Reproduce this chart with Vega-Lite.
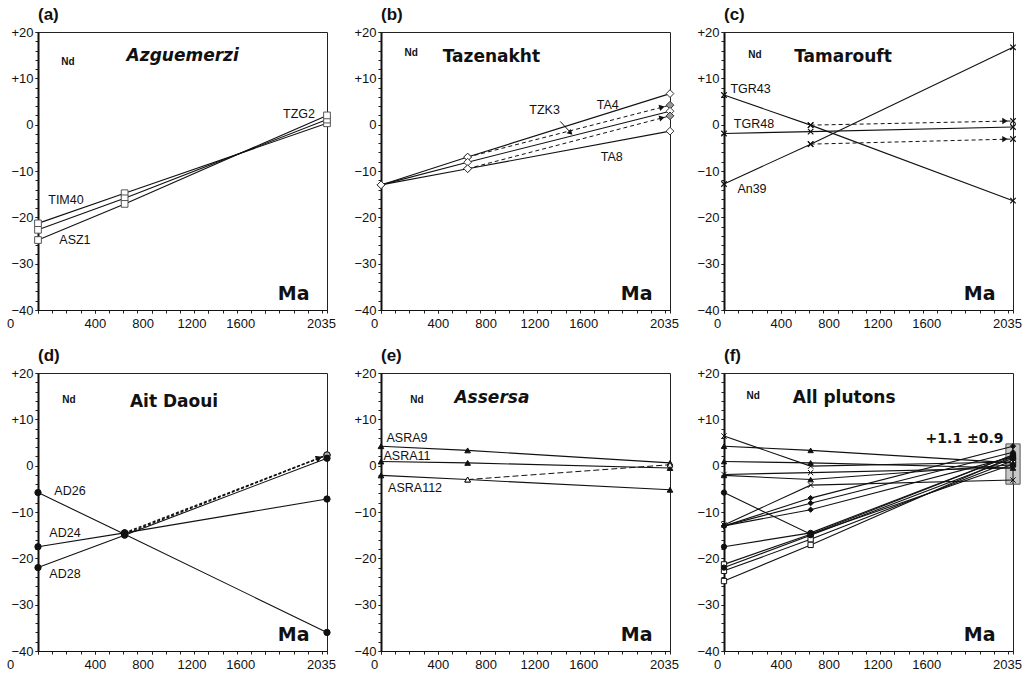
{
"$schema": "https://vega.github.io/schema/vega-lite/v6.json",
"background": "white",
"padding": {"left": 5, "top": 5, "right": 5, "bottom": 3},
"datasets": {
"nd": [
{"pluton":"Azguemerzi","sample":"TIM40","kind":"measured","age":0,"eNd":-21.3,"inAll":true},
{"pluton":"Azguemerzi","sample":"TIM40","kind":"measured","age":610,"eNd":-14.8,"inAll":true},
{"pluton":"Azguemerzi","sample":"TIM40","kind":"measured","age":2035,"eNd":0.3,"inAll":true},
{"pluton":"Azguemerzi","sample":"TZG2","kind":"measured","age":0,"eNd":-22.7,"inAll":true},
{"pluton":"Azguemerzi","sample":"TZG2","kind":"measured","age":610,"eNd":-15.9,"inAll":true},
{"pluton":"Azguemerzi","sample":"TZG2","kind":"measured","age":2035,"eNd":1.1,"inAll":true},
{"pluton":"Azguemerzi","sample":"ASZ1","kind":"measured","age":0,"eNd":-24.9,"inAll":true},
{"pluton":"Azguemerzi","sample":"ASZ1","kind":"measured","age":610,"eNd":-17.1,"inAll":true},
{"pluton":"Azguemerzi","sample":"ASZ1","kind":"measured","age":2035,"eNd":2.0,"inAll":true},
{"pluton":"Tazenakht","sample":"TA4","kind":"measured","age":0,"eNd":-13.0,"inAll":true},
{"pluton":"Tazenakht","sample":"TA4","kind":"measured","age":610,"eNd":-7.0,"inAll":true},
{"pluton":"Tazenakht","sample":"TA4","kind":"measured","age":2035,"eNd":6.7,"inAll":false},
{"pluton":"Tazenakht","sample":"TA4","kind":"corrected","age":610,"eNd":-7.0,"inAll":false},
{"pluton":"Tazenakht","sample":"TA4","kind":"corrected","age":2035,"eNd":4.2,"inAll":true},
{"pluton":"Tazenakht","sample":"TZK3","kind":"measured","age":0,"eNd":-13.0,"inAll":true},
{"pluton":"Tazenakht","sample":"TZK3","kind":"measured","age":610,"eNd":-8.1,"inAll":true},
{"pluton":"Tazenakht","sample":"TZK3","kind":"measured","age":2035,"eNd":2.9,"inAll":true},
{"pluton":"Tazenakht","sample":"TA8","kind":"measured","age":0,"eNd":-13.0,"inAll":true},
{"pluton":"Tazenakht","sample":"TA8","kind":"measured","age":610,"eNd":-9.5,"inAll":true},
{"pluton":"Tazenakht","sample":"TA8","kind":"measured","age":2035,"eNd":-1.4,"inAll":false},
{"pluton":"Tazenakht","sample":"TA8","kind":"corrected","age":610,"eNd":-9.5,"inAll":false},
{"pluton":"Tazenakht","sample":"TA8","kind":"corrected","age":2035,"eNd":1.9,"inAll":true},
{"pluton":"Tamarouft","sample":"TGR43","kind":"measured","age":0,"eNd":6.4,"inAll":true},
{"pluton":"Tamarouft","sample":"TGR43","kind":"measured","age":610,"eNd":-0.1,"inAll":true},
{"pluton":"Tamarouft","sample":"TGR43","kind":"measured","age":2035,"eNd":-16.4,"inAll":false},
{"pluton":"Tamarouft","sample":"TGR43","kind":"corrected","age":610,"eNd":-0.1,"inAll":false},
{"pluton":"Tamarouft","sample":"TGR43","kind":"corrected","age":2035,"eNd":0.8,"inAll":true},
{"pluton":"Tamarouft","sample":"TGR48","kind":"measured","age":0,"eNd":-1.9,"inAll":true},
{"pluton":"Tamarouft","sample":"TGR48","kind":"measured","age":610,"eNd":-1.5,"inAll":true},
{"pluton":"Tamarouft","sample":"TGR48","kind":"measured","age":2035,"eNd":-0.5,"inAll":true},
{"pluton":"Tamarouft","sample":"An39","kind":"measured","age":0,"eNd":-12.8,"inAll":true},
{"pluton":"Tamarouft","sample":"An39","kind":"measured","age":610,"eNd":-4.2,"inAll":true},
{"pluton":"Tamarouft","sample":"An39","kind":"measured","age":2035,"eNd":16.7,"inAll":false},
{"pluton":"Tamarouft","sample":"An39","kind":"corrected","age":610,"eNd":-4.2,"inAll":false},
{"pluton":"Tamarouft","sample":"An39","kind":"corrected","age":2035,"eNd":-3.1,"inAll":true},
{"pluton":"Ait Daoui","sample":"AD26","kind":"measured","age":0,"eNd":-5.8,"inAll":true},
{"pluton":"Ait Daoui","sample":"AD26","kind":"measured","age":610,"eNd":-14.8,"inAll":true},
{"pluton":"Ait Daoui","sample":"AD26","kind":"measured","age":2035,"eNd":-36.0,"inAll":false},
{"pluton":"Ait Daoui","sample":"AD26","kind":"corrected","age":610,"eNd":-14.8,"inAll":false},
{"pluton":"Ait Daoui","sample":"AD26","kind":"corrected","age":2035,"eNd":2.3,"inAll":true},
{"pluton":"Ait Daoui","sample":"AD24","kind":"measured","age":0,"eNd":-17.5,"inAll":true},
{"pluton":"Ait Daoui","sample":"AD24","kind":"measured","age":610,"eNd":-14.5,"inAll":true},
{"pluton":"Ait Daoui","sample":"AD24","kind":"measured","age":2035,"eNd":-7.2,"inAll":false},
{"pluton":"Ait Daoui","sample":"AD24","kind":"corrected","age":610,"eNd":-14.5,"inAll":false},
{"pluton":"Ait Daoui","sample":"AD24","kind":"corrected","age":2035,"eNd":2.3,"inAll":true},
{"pluton":"Ait Daoui","sample":"AD28","kind":"measured","age":0,"eNd":-22.0,"inAll":true},
{"pluton":"Ait Daoui","sample":"AD28","kind":"measured","age":610,"eNd":-15.0,"inAll":true},
{"pluton":"Ait Daoui","sample":"AD28","kind":"measured","age":2035,"eNd":1.6,"inAll":true},
{"pluton":"Assersa","sample":"ASRA9","kind":"measured","age":0,"eNd":4.2,"inAll":true},
{"pluton":"Assersa","sample":"ASRA9","kind":"measured","age":610,"eNd":3.3,"inAll":true},
{"pluton":"Assersa","sample":"ASRA9","kind":"measured","age":2035,"eNd":0.6,"inAll":true},
{"pluton":"Assersa","sample":"ASRA11","kind":"measured","age":0,"eNd":0.9,"inAll":true},
{"pluton":"Assersa","sample":"ASRA11","kind":"measured","age":610,"eNd":0.6,"inAll":true},
{"pluton":"Assersa","sample":"ASRA11","kind":"measured","age":2035,"eNd":-0.5,"inAll":true},
{"pluton":"Assersa","sample":"ASRA112","kind":"measured","age":0,"eNd":-2.1,"inAll":true},
{"pluton":"Assersa","sample":"ASRA112","kind":"measured","age":610,"eNd":-3.0,"inAll":true},
{"pluton":"Assersa","sample":"ASRA112","kind":"measured","age":2035,"eNd":-5.2,"inAll":false},
{"pluton":"Assersa","sample":"ASRA112","kind":"corrected","age":610,"eNd":-3.0,"inAll":false},
{"pluton":"Assersa","sample":"ASRA112","kind":"corrected","age":2035,"eNd":0.2,"inAll":true}
],
"labels": [
{"pluton":"Azguemerzi","label":"TIM40","age":197,"eNd":-16.2},
{"pluton":"Azguemerzi","label":"ASZ1","age":260,"eNd":-24.9},
{"pluton":"Azguemerzi","label":"TZG2","age":1838,"eNd":2.4},
{"pluton":"Tazenakht","label":"TA4","age":1597,"eNd":4.2},
{"pluton":"Tazenakht","label":"TZK3","age":1152,"eNd":3.1},
{"pluton":"Tazenakht","label":"TA8","age":1625,"eNd":-7.0},
{"pluton":"Tamarouft","label":"TGR43","age":187,"eNd":7.8},
{"pluton":"Tamarouft","label":"TGR48","age":211,"eNd":0.2},
{"pluton":"Tamarouft","label":"An39","age":197,"eNd":-13.9},
{"pluton":"Ait Daoui","label":"AD26","age":225,"eNd":-5.5},
{"pluton":"Ait Daoui","label":"AD24","age":190,"eNd":-14.6},
{"pluton":"Ait Daoui","label":"AD28","age":190,"eNd":-23.3},
{"pluton":"Assersa","label":"ASRA9","age":183,"eNd":5.9},
{"pluton":"Assersa","label":"ASRA11","age":183,"eNd":2.1},
{"pluton":"Assersa","label":"ASRA112","age":240,"eNd":-4.8}
]
},
"spacing": 15,
"vconcat": [
{"hconcat": [
{"width":289,"height":278,"title":{"text":"(a)"},
"resolve":{"axis":{"x":"independent","y":"independent"}},
"layer":[
{"data":{"values":[{}]},"mark":{"type":"point","opacity":0},
"encoding":{"x":{"datum":0,"type":"quantitative","scale":{"domain":[0,2035],"nice":false,"zero":false},"axis":{"title":null,"orient":"bottom","labels":false,"domain":false,"tickSize":3,"values":[0,100,200,300,400,500,600,700,800,900,1000,1100,1200,1300,1400,1500,1600,1700,1800,1900,2000]}},
"y":{"datum":0,"type":"quantitative","scale":{"domain":[-40,20],"nice":false},"axis":{"title":null,"orient":"left","labels":false,"domain":false,"tickSize":3,"values":[-40,-38,-36,-34,-32,-30,-28,-26,-24,-22,-20,-18,-16,-14,-12,-10,-8,-6,-4,-2,0,2,4,6,8,10,12,14,16,18,20]}}}},
{"layer":[
{"data":{"name":"nd"},"transform":[{"filter":"datum.pluton=='Azguemerzi' && datum.kind=='measured'"}],
"mark":{"type":"line","color":"#111","strokeWidth":1.1},
"encoding":{
"x":{"field":"age","type":"quantitative","axis":{"title":null,"orient":"bottom","labelOverlap":false,"labelFlush":false,"values":[0,400,800,1200,1600,2035],"format":"d","labelOffset":{"expr":"datum.value==0 ? -28 : datum.value==800 ? -9 : datum.value==1200 ? -17 : datum.value==1600 ? -25 : datum.value==2035 ? -6 : 0"}}},
"y":{"field":"eNd","type":"quantitative","axis":{"title":null,"orient":"left","labelOverlap":false,"labelFlush":false,"values":[-40,-30,-20,-10,0,10,20],"labelExpr":"datum.value > 0 ? '+' + datum.label : datum.label"}},
"detail":{"field":"sample"},"order":{"field":"age"}}},
{"data":{"name":"nd"},"transform":[{"filter":"datum.pluton=='Azguemerzi'"}],
"mark":{"type":"point","shape":"square","filled":true,"fill":"white","stroke":"#555","strokeWidth":1,"size":45,"opacity":1},
"encoding":{"x":{"field":"age","type":"quantitative"},"y":{"field":"eNd","type":"quantitative"}}},
{"data":{"name":"labels"},"transform":[{"filter":"datum.pluton=='Azguemerzi'"}],
"mark":{"type":"text","font":"Liberation Sans","fontSize":12.5,"color":"#111"},
"encoding":{"x":{"field":"age","type":"quantitative"},"y":{"field":"eNd","type":"quantitative"},"text":{"field":"label"}}},
{"data":{"values":[{}]},"mark":{"type":"text","text":"Nd","font":"Liberation Sans","fontSize":10,"fontWeight":"bold","color":"#111"},"encoding":{"x":{"datum":211},"y":{"datum":13.6}}},
{"data":{"values":[{}]},"mark":{"type":"text","text":"Azguemerzi","font":"DejaVu Sans","fontSize":17,"fontWeight":"bold","fontStyle":"italic","color":"#111"},"encoding":{"x":{"datum":1019},"y":{"datum":14.8}}},
{"data":{"values":[{}]},"mark":{"type":"text","text":"Ma","font":"DejaVu Sans","fontSize":19,"fontWeight":"bold","color":"#111"},"encoding":{"x":{"datum":1800},"y":{"datum":-36.6}}}
]}]},
{"width":289,"height":278,"title":{"text":"(b)"},
"resolve":{"axis":{"x":"independent","y":"independent"}},
"layer":[
{"data":{"values":[{}]},"mark":{"type":"point","opacity":0},
"encoding":{"x":{"datum":0,"type":"quantitative","scale":{"domain":[0,2035],"nice":false,"zero":false},"axis":{"title":null,"orient":"bottom","labels":false,"domain":false,"tickSize":3,"values":[0,100,200,300,400,500,600,700,800,900,1000,1100,1200,1300,1400,1500,1600,1700,1800,1900,2000]}},
"y":{"datum":0,"type":"quantitative","scale":{"domain":[-40,20],"nice":false},"axis":{"title":null,"orient":"left","labels":false,"domain":false,"tickSize":3,"values":[-40,-38,-36,-34,-32,-30,-28,-26,-24,-22,-20,-18,-16,-14,-12,-10,-8,-6,-4,-2,0,2,4,6,8,10,12,14,16,18,20]}}}},
{"layer":[
{"data":{"name":"nd"},"transform":[{"filter":"datum.pluton=='Tazenakht' && datum.kind=='measured'"}],
"mark":{"type":"line","color":"#111","strokeWidth":1.1},
"encoding":{
"x":{"field":"age","type":"quantitative","axis":{"title":null,"orient":"bottom","labelOverlap":false,"labelFlush":false,"values":[0,400,800,1200,1600,2035],"format":"d","labelOffset":{"expr":"datum.value==0 ? -7 : datum.value==800 ? -9 : datum.value==1200 ? -17 : datum.value==1600 ? -25 : datum.value==2035 ? -6 : 0"}}},
"y":{"field":"eNd","type":"quantitative","axis":{"title":null,"orient":"left","labelOverlap":false,"labelFlush":false,"values":[-40,-30,-20,-10,0,10,20],"labelExpr":"datum.value > 0 ? '+' + datum.label : datum.label"}},
"detail":{"field":"sample"},"order":{"field":"age"}}},
{"data":{"name":"nd"},"transform":[{"filter":"datum.pluton=='Tazenakht' && datum.kind=='corrected'"}],
"mark":{"type":"line","color":"#111","strokeWidth":1,"strokeDash":[4,3]},
"encoding":{"x":{"field":"age","type":"quantitative"},"y":{"field":"eNd","type":"quantitative"},"detail":{"field":"sample"},"order":{"field":"age"}}},
{"data":{"name":"nd"},"transform":[{"filter":"datum.pluton=='Tazenakht' && datum.kind=='corrected' && datum.age > 2000"}],
"mark":{"type":"point","shape":"triangle-right","filled":true,"color":"#111","size":40,"angle":-14,"xOffset":-8,"yOffset":2,"opacity":1},
"encoding":{"x":{"field":"age","type":"quantitative"},"y":{"field":"eNd","type":"quantitative"}}},
{"data":{"name":"nd"},"transform":[{"filter":"datum.pluton=='Tazenakht'"}],
"mark":{"type":"point","shape":"diamond","filled":true,"stroke":"#333","strokeWidth":1,"size":60,"opacity":1},
"encoding":{"x":{"field":"age","type":"quantitative"},"y":{"field":"eNd","type":"quantitative"},
"fill":{"condition":{"test":"datum.kind=='corrected' && datum.age > 2000","value":"#999"},"value":"white"}}},
{"data":{"values":[{}]},"mark":{"type":"rule","color":"#111","strokeWidth":1},
"encoding":{"x":{"datum":1262},"y":{"datum":0.7},"x2":{"datum":1335},"y2":{"datum":-1.7}}},
{"data":{"values":[{}]},"mark":{"type":"point","shape":"triangle-right","filled":true,"color":"#111","size":35,"angle":45,"opacity":1},
"encoding":{"x":{"datum":1335},"y":{"datum":-1.8}}},
{"data":{"name":"labels"},"transform":[{"filter":"datum.pluton=='Tazenakht'"}],
"mark":{"type":"text","font":"Liberation Sans","fontSize":12.5,"color":"#111"},
"encoding":{"x":{"field":"age","type":"quantitative"},"y":{"field":"eNd","type":"quantitative"},"text":{"field":"label"}}},
{"data":{"values":[{}]},"mark":{"type":"text","text":"Nd","font":"Liberation Sans","fontSize":10,"fontWeight":"bold","color":"#111"},"encoding":{"x":{"datum":212},"y":{"datum":15.4}}},
{"data":{"values":[{}]},"mark":{"type":"text","text":"Tazenakht","font":"DejaVu Sans","fontSize":17,"fontWeight":"bold","color":"#111"},"encoding":{"x":{"datum":777},"y":{"datum":14.6}}},
{"data":{"values":[{}]},"mark":{"type":"text","text":"Ma","font":"DejaVu Sans","fontSize":19,"fontWeight":"bold","color":"#111"},"encoding":{"x":{"datum":1800},"y":{"datum":-36.6}}}
]}]},
{"width":289,"height":278,"title":{"text":"(c)"},
"resolve":{"axis":{"x":"independent","y":"independent"}},
"layer":[
{"data":{"values":[{}]},"mark":{"type":"point","opacity":0},
"encoding":{"x":{"datum":0,"type":"quantitative","scale":{"domain":[0,2035],"nice":false,"zero":false},"axis":{"title":null,"orient":"bottom","labels":false,"domain":false,"tickSize":3,"values":[0,100,200,300,400,500,600,700,800,900,1000,1100,1200,1300,1400,1500,1600,1700,1800,1900,2000]}},
"y":{"datum":0,"type":"quantitative","scale":{"domain":[-40,20],"nice":false},"axis":{"title":null,"orient":"left","labels":false,"domain":false,"tickSize":3,"values":[-40,-38,-36,-34,-32,-30,-28,-26,-24,-22,-20,-18,-16,-14,-12,-10,-8,-6,-4,-2,0,2,4,6,8,10,12,14,16,18,20]}}}},
{"layer":[
{"data":{"name":"nd"},"transform":[{"filter":"datum.pluton=='Tamarouft' && datum.kind=='measured'"}],
"mark":{"type":"line","color":"#111","strokeWidth":1.1},
"encoding":{
"x":{"field":"age","type":"quantitative","axis":{"title":null,"orient":"bottom","labelOverlap":false,"labelFlush":false,"values":[0,400,800,1200,1600,2035],"format":"d","labelOffset":{"expr":"datum.value==0 ? -7 : datum.value==800 ? -9 : datum.value==1200 ? -17 : datum.value==1600 ? -25 : datum.value==2035 ? -6 : 0"}}},
"y":{"field":"eNd","type":"quantitative","axis":{"title":null,"orient":"left","labelOverlap":false,"labelFlush":false,"values":[-40,-30,-20,-10,0,10,20],"labelExpr":"datum.value > 0 ? '+' + datum.label : datum.label"}},
"detail":{"field":"sample"},"order":{"field":"age"}}},
{"data":{"name":"nd"},"transform":[{"filter":"datum.pluton=='Tamarouft' && datum.kind=='corrected'"}],
"mark":{"type":"line","color":"#111","strokeWidth":1,"strokeDash":[4,3]},
"encoding":{"x":{"field":"age","type":"quantitative"},"y":{"field":"eNd","type":"quantitative"},"detail":{"field":"sample"},"order":{"field":"age"}}},
{"data":{"name":"nd"},"transform":[{"filter":"datum.pluton=='Tamarouft' && datum.kind=='corrected' && datum.age > 2000"}],
"mark":{"type":"point","shape":"triangle-right","filled":true,"color":"#111","size":40,"angle":-1,"xOffset":-8,"yOffset":0,"opacity":1},
"encoding":{"x":{"field":"age","type":"quantitative"},"y":{"field":"eNd","type":"quantitative"}}},
{"data":{"name":"nd"},"transform":[{"filter":"datum.pluton=='Tamarouft'"}],
"mark":{"type":"point","shape":"M-1,-1L1,1M-1,1L1,-1","filled":false,"stroke":"#111","strokeWidth":1.2,"size":30,"opacity":1},
"encoding":{"x":{"field":"age","type":"quantitative"},"y":{"field":"eNd","type":"quantitative"}}},
{"data":{"name":"labels"},"transform":[{"filter":"datum.pluton=='Tamarouft'"}],
"mark":{"type":"text","font":"Liberation Sans","fontSize":12.5,"color":"#111"},
"encoding":{"x":{"field":"age","type":"quantitative"},"y":{"field":"eNd","type":"quantitative"},"text":{"field":"label"}}},
{"data":{"values":[{}]},"mark":{"type":"text","text":"Nd","font":"Liberation Sans","fontSize":10,"fontWeight":"bold","color":"#111"},"encoding":{"x":{"datum":218},"y":{"datum":15.0}}},
{"data":{"values":[{}]},"mark":{"type":"text","text":"Tamarouft","font":"DejaVu Sans","fontSize":17,"fontWeight":"bold","color":"#111"},"encoding":{"x":{"datum":838},"y":{"datum":14.6}}},
{"data":{"values":[{}]},"mark":{"type":"text","text":"Ma","font":"DejaVu Sans","fontSize":19,"fontWeight":"bold","color":"#111"},"encoding":{"x":{"datum":1800},"y":{"datum":-36.6}}}
]}]}
], "spacing": 54, "bounds": "flush"},
{"hconcat": [
{"width":289,"height":278,"title":{"text":"(d)"},
"resolve":{"axis":{"x":"independent","y":"independent"}},
"layer":[
{"data":{"values":[{}]},"mark":{"type":"point","opacity":0},
"encoding":{"x":{"datum":0,"type":"quantitative","scale":{"domain":[0,2035],"nice":false,"zero":false},"axis":{"title":null,"orient":"bottom","labels":false,"domain":false,"tickSize":3,"values":[0,100,200,300,400,500,600,700,800,900,1000,1100,1200,1300,1400,1500,1600,1700,1800,1900,2000]}},
"y":{"datum":0,"type":"quantitative","scale":{"domain":[-40,20],"nice":false},"axis":{"title":null,"orient":"left","labels":false,"domain":false,"tickSize":3,"values":[-40,-38,-36,-34,-32,-30,-28,-26,-24,-22,-20,-18,-16,-14,-12,-10,-8,-6,-4,-2,0,2,4,6,8,10,12,14,16,18,20]}}}},
{"layer":[
{"data":{"name":"nd"},"transform":[{"filter":"datum.pluton=='Ait Daoui' && datum.kind=='measured'"}],
"mark":{"type":"line","color":"#111","strokeWidth":1.1},
"encoding":{
"x":{"field":"age","type":"quantitative","axis":{"title":null,"orient":"bottom","labelOverlap":false,"labelFlush":false,"values":[0,400,800,1200,1600,2035],"format":"d","labelOffset":{"expr":"datum.value==0 ? -28 : datum.value==800 ? -9 : datum.value==1200 ? -17 : datum.value==1600 ? -25 : datum.value==2035 ? -6 : 0"}}},
"y":{"field":"eNd","type":"quantitative","axis":{"title":null,"orient":"left","labelOverlap":false,"labelFlush":false,"values":[-40,-30,-20,-10,0,10,20],"labelExpr":"datum.value > 0 ? '+' + datum.label : datum.label"}},
"detail":{"field":"sample"},"order":{"field":"age"}}},
{"data":{"name":"nd"},"transform":[{"filter":"datum.pluton=='Ait Daoui' && datum.kind=='corrected'"}],
"mark":{"type":"line","color":"#111","strokeWidth":1.4,"strokeDash":[3,2]},
"encoding":{"x":{"field":"age","type":"quantitative"},"y":{"field":"eNd","type":"quantitative"},"detail":{"field":"sample"},"order":{"field":"age"}}},
{"data":{"name":"nd"},"transform":[{"filter":"datum.pluton=='Ait Daoui' && datum.kind=='corrected' && datum.age > 2000"}],
"mark":{"type":"point","shape":"triangle-right","filled":true,"color":"#111","size":45,"angle":-21,"xOffset":-8,"yOffset":3,"opacity":1},
"encoding":{"x":{"field":"age","type":"quantitative"},"y":{"field":"eNd","type":"quantitative"}}},
{"data":{"name":"nd"},"transform":[{"filter":"datum.pluton=='Ait Daoui'"}],
"mark":{"type":"point","shape":"circle","filled":true,"stroke":"#111","strokeWidth":1,"size":40,"opacity":1},
"encoding":{"x":{"field":"age","type":"quantitative"},"y":{"field":"eNd","type":"quantitative"},
"fill":{"condition":{"test":"datum.kind=='corrected' && datum.age > 2000","value":"#aaa"},"value":"#111"}}},
{"data":{"name":"labels"},"transform":[{"filter":"datum.pluton=='Ait Daoui'"}],
"mark":{"type":"text","font":"Liberation Sans","fontSize":12.5,"color":"#111"},
"encoding":{"x":{"field":"age","type":"quantitative"},"y":{"field":"eNd","type":"quantitative"},"text":{"field":"label"}}},
{"data":{"values":[{}]},"mark":{"type":"text","text":"Nd","font":"Liberation Sans","fontSize":10,"fontWeight":"bold","color":"#111"},"encoding":{"x":{"datum":218},"y":{"datum":14.2}}},
{"data":{"values":[{}]},"mark":{"type":"text","text":"Ait Daoui","font":"DejaVu Sans","fontSize":17,"fontWeight":"bold","color":"#111"},"encoding":{"x":{"datum":958},"y":{"datum":13.8}}},
{"data":{"values":[{}]},"mark":{"type":"text","text":"Ma","font":"DejaVu Sans","fontSize":19,"fontWeight":"bold","color":"#111"},"encoding":{"x":{"datum":1800},"y":{"datum":-36.6}}}
]}]},
{"width":289,"height":278,"title":{"text":"(e)"},
"resolve":{"axis":{"x":"independent","y":"independent"}},
"layer":[
{"data":{"values":[{}]},"mark":{"type":"point","opacity":0},
"encoding":{"x":{"datum":0,"type":"quantitative","scale":{"domain":[0,2035],"nice":false,"zero":false},"axis":{"title":null,"orient":"bottom","labels":false,"domain":false,"tickSize":3,"values":[0,100,200,300,400,500,600,700,800,900,1000,1100,1200,1300,1400,1500,1600,1700,1800,1900,2000]}},
"y":{"datum":0,"type":"quantitative","scale":{"domain":[-40,20],"nice":false},"axis":{"title":null,"orient":"left","labels":false,"domain":false,"tickSize":3,"values":[-40,-38,-36,-34,-32,-30,-28,-26,-24,-22,-20,-18,-16,-14,-12,-10,-8,-6,-4,-2,0,2,4,6,8,10,12,14,16,18,20]}}}},
{"layer":[
{"data":{"name":"nd"},"transform":[{"filter":"datum.pluton=='Assersa' && datum.kind=='measured'"}],
"mark":{"type":"line","color":"#111","strokeWidth":1.1},
"encoding":{
"x":{"field":"age","type":"quantitative","axis":{"title":null,"orient":"bottom","labelOverlap":false,"labelFlush":false,"values":[0,400,800,1200,1600,2035],"format":"d","labelOffset":{"expr":"datum.value==0 ? -7 : datum.value==800 ? -9 : datum.value==1200 ? -17 : datum.value==1600 ? -25 : datum.value==2035 ? -6 : 0"}}},
"y":{"field":"eNd","type":"quantitative","axis":{"title":null,"orient":"left","labelOverlap":false,"labelFlush":false,"values":[-40,-30,-20,-10,0,10,20],"labelExpr":"datum.value > 0 ? '+' + datum.label : datum.label"}},
"detail":{"field":"sample"},"order":{"field":"age"}}},
{"data":{"name":"nd"},"transform":[{"filter":"datum.pluton=='Assersa' && datum.kind=='corrected'"}],
"mark":{"type":"line","color":"#111","strokeWidth":1,"strokeDash":[6,3]},
"encoding":{"x":{"field":"age","type":"quantitative"},"y":{"field":"eNd","type":"quantitative"},"detail":{"field":"sample"},"order":{"field":"age"}}},
{"data":{"name":"nd"},"transform":[{"filter":"datum.pluton=='Assersa' && datum.kind=='measured'"}],
"mark":{"type":"point","shape":"triangle-up","filled":true,"fill":"#111","stroke":"#111","strokeWidth":1,"size":32,"opacity":1},
"encoding":{"x":{"field":"age","type":"quantitative"},"y":{"field":"eNd","type":"quantitative"}}},
{"data":{"name":"nd"},"transform":[{"filter":"datum.pluton=='Assersa' && datum.kind=='corrected'"}],
"mark":{"type":"point","shape":"triangle-up","filled":true,"fill":"white","stroke":"#111","strokeWidth":1,"size":32,"opacity":1},
"encoding":{"x":{"field":"age","type":"quantitative"},"y":{"field":"eNd","type":"quantitative"}}},
{"data":{"name":"labels"},"transform":[{"filter":"datum.pluton=='Assersa'"}],
"mark":{"type":"text","font":"Liberation Sans","fontSize":12.5,"color":"#111"},
"encoding":{"x":{"field":"age","type":"quantitative"},"y":{"field":"eNd","type":"quantitative"},"text":{"field":"label"}}},
{"data":{"values":[{}]},"mark":{"type":"text","text":"Nd","font":"Liberation Sans","fontSize":10,"fontWeight":"bold","color":"#111"},"encoding":{"x":{"datum":253},"y":{"datum":14.2}}},
{"data":{"values":[{}]},"mark":{"type":"text","text":"Assersa","font":"DejaVu Sans","fontSize":17,"fontWeight":"bold","fontStyle":"italic","color":"#111"},"encoding":{"x":{"datum":781},"y":{"datum":14.6}}},
{"data":{"values":[{}]},"mark":{"type":"text","text":"Ma","font":"DejaVu Sans","fontSize":19,"fontWeight":"bold","color":"#111"},"encoding":{"x":{"datum":1800},"y":{"datum":-36.6}}}
]}]},
{"width":289,"height":278,"title":{"text":"(f)"},
"resolve":{"axis":{"x":"independent","y":"independent"}},
"layer":[
{"data":{"values":[{}]},"mark":{"type":"point","opacity":0},
"encoding":{"x":{"datum":0,"type":"quantitative","scale":{"domain":[0,2035],"nice":false,"zero":false},"axis":{"title":null,"orient":"bottom","labels":false,"domain":false,"tickSize":3,"values":[0,100,200,300,400,500,600,700,800,900,1000,1100,1200,1300,1400,1500,1600,1700,1800,1900,2000]}},
"y":{"datum":0,"type":"quantitative","scale":{"domain":[-40,20],"nice":false},"axis":{"title":null,"orient":"left","labels":false,"domain":false,"tickSize":3,"values":[-40,-38,-36,-34,-32,-30,-28,-26,-24,-22,-20,-18,-16,-14,-12,-10,-8,-6,-4,-2,0,2,4,6,8,10,12,14,16,18,20]}}}},
{"layer":[
{"data":{"values":[{}]},"mark":{"type":"rect","fill":"#c8c8c8","stroke":"#555","strokeWidth":1,"clip":false},
"encoding":{"x":{"datum":1985,"type":"quantitative","axis":{"title":null,"orient":"bottom","labelOverlap":false,"labelFlush":false,"values":[0,400,800,1200,1600,2035],"format":"d","labelOffset":{"expr":"datum.value==0 ? -7 : datum.value==800 ? -9 : datum.value==1200 ? -17 : datum.value==1600 ? -25 : datum.value==2035 ? -6 : 0"}}},
"x2":{"datum":2085},
"y":{"datum":-4.0,"type":"quantitative","axis":{"title":null,"orient":"left","labelOverlap":false,"labelFlush":false,"values":[-40,-30,-20,-10,0,10,20],"labelExpr":"datum.value > 0 ? '+' + datum.label : datum.label"}},
"y2":{"datum":4.7}}},
{"data":{"values":[{}]},"mark":{"type":"rule","color":"#111","strokeWidth":1},
"encoding":{"x":{"datum":2035},"y":{"datum":-4.0},"y2":{"datum":4.7}}},
{"data":{"name":"nd"},"transform":[{"filter":"datum.inAll"}],
"mark":{"type":"line","color":"#111","strokeWidth":1.1},
"encoding":{"x":{"field":"age","type":"quantitative"},"y":{"field":"eNd","type":"quantitative"},"detail":{"field":"sample"},"order":{"field":"age"}}},
{"data":{"name":"nd"},"transform":[{"filter":"datum.inAll"}],
"mark":{"type":"point","filled":true,"stroke":"#111","strokeWidth":1,"size":28,"opacity":1},
"encoding":{"x":{"field":"age","type":"quantitative"},"y":{"field":"eNd","type":"quantitative"},
"shape":{"field":"pluton","type":"nominal","scale":{"domain":["Azguemerzi","Tazenakht","Tamarouft","Ait Daoui","Assersa"],"range":["square","diamond","M-1,-1L1,1M-1,1L1,-1","circle","triangle-up"]},"legend":null},
"fill":{"field":"pluton","type":"nominal","scale":{"domain":["Azguemerzi","Tazenakht","Tamarouft","Ait Daoui","Assersa"],"range":["white","#111","#111","#111","#111"]},"legend":null}}},
{"data":{"values":[{}]},"mark":{"type":"text","text":"Nd","font":"Liberation Sans","fontSize":10,"fontWeight":"bold","color":"#111"},"encoding":{"x":{"datum":205},"y":{"datum":15.0}}},
{"data":{"values":[{}]},"mark":{"type":"text","text":"All plutons","font":"DejaVu Sans","fontSize":17,"fontWeight":"bold","color":"#111"},"encoding":{"x":{"datum":846},"y":{"datum":14.6}}},
{"data":{"values":[{}]},"mark":{"type":"text","text":"+1.1 ±0.9","font":"DejaVu Sans","fontSize":14,"fontWeight":"bold","color":"#111"},"encoding":{"x":{"datum":1694},"y":{"datum":5.8}}},
{"data":{"values":[{}]},"mark":{"type":"text","text":"Ma","font":"DejaVu Sans","fontSize":19,"fontWeight":"bold","color":"#111"},"encoding":{"x":{"datum":1800},"y":{"datum":-36.6}}}
]}]}
], "spacing": 54, "bounds": "flush"}
],
"config": {
"font": "Liberation Sans",
"view": {"stroke": "#222", "strokeWidth": 1},
"axis": {"grid": false, "labelFont": "Liberation Sans", "labelFontSize": 13, "labelColor": "#111", "tickColor": "#222", "domainColor": "#111"},
"axisX": {"tickSize": 3, "labelPadding": 4, "domainWidth": 1},
"axisY": {"tickSize": 3, "labelPadding": 2, "domainWidth": 2},
"title": {"anchor": "start", "frame": "group", "fontSize": 17, "fontWeight": "bold", "font": "Liberation Sans", "offset": 2, "color": "#111"}
}
}
